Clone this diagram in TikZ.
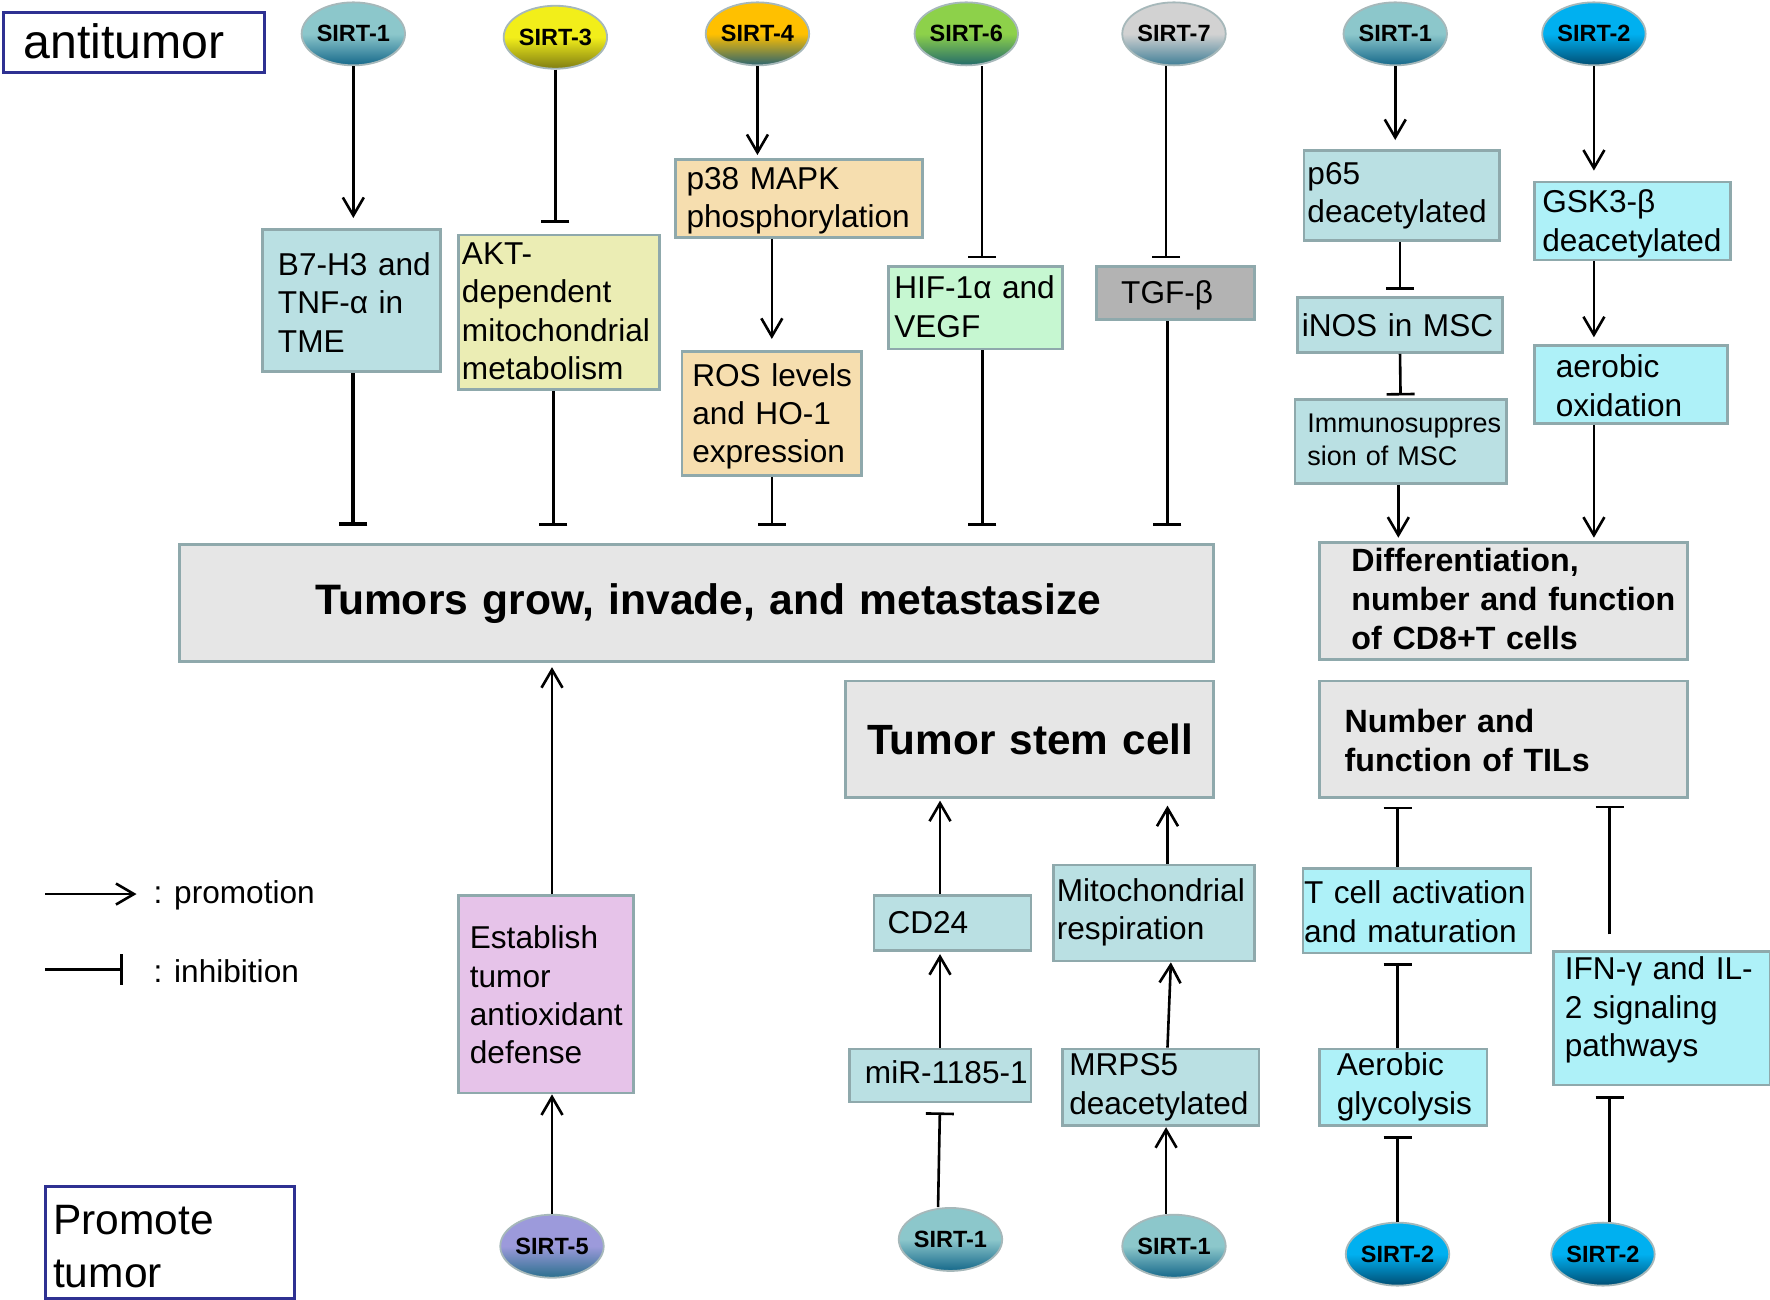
\documentclass[tikz,border=0pt]{standalone}
\usepackage{fontspec}
\setmainfont{Liberation Sans}
\usetikzlibrary{arrows.meta,shapes.geometric,calc}
\definecolor{lb}{HTML}{BAE0E3}
\definecolor{yl}{HTML}{EBEDB4}
\definecolor{wh}{HTML}{F6DEAF}
\definecolor{gr}{HTML}{C6F7D1}
\definecolor{gy}{HTML}{B3B3B3}
\definecolor{cy}{HTML}{AEF1F8}
\definecolor{pk}{HTML}{E6C3E9}
\definecolor{mg}{HTML}{E6E6E6}
\definecolor{bd}{HTML}{8FA9AC}
\definecolor{nv}{HTML}{2E3192}
\definecolor{ebd}{HTML}{A6B8BA}
\definecolor{c1t}{HTML}{8CC7CB}\definecolor{c1b}{HTML}{15688A}
\definecolor{c3t}{HTML}{F2EE1A}\definecolor{c3b}{HTML}{7F7D12}
\definecolor{c4t}{HTML}{FFC000}\definecolor{c4b}{HTML}{2B6470}
\definecolor{c6t}{HTML}{8DD14A}\definecolor{c6b}{HTML}{236B6B}
\definecolor{c7t}{HTML}{D2D2D2}\definecolor{c7b}{HTML}{3F7E96}
\definecolor{c2t}{HTML}{00B0F0}\definecolor{c2b}{HTML}{004D73}
\definecolor{c5t}{HTML}{9C9ADB}\definecolor{c5b}{HTML}{2A6F8D}
\def\tsh{2.8pt}
\newcommand\ls[1]{\raisebox{-\tsh}[\height][\depth]{\begin{tabular}{@{}l@{}}#1\end{tabular}}}
\newcommand\mkbox[9]{%
 \pgfmathsetmacro\bw{(#6-#4-2*#8)*1.1288}%
 \pgfmathsetmacro\bh{(#7-#5)*1.1288}%
 \pgfmathsetmacro\bp{#8*1.1288}%
 \node[#2, fill=#3, text width=\bw pt, inner xsep=\bp pt, minimum height=\bh pt, anchor=north west] (#1) at (#4,#5) {\ls{#9}};}
\tikzset{
 tsh/.code={\def\tsh{#1}},
 bxs/.style={draw=bd, line width=2.8pt, inner ysep=0pt, align=left, tsh=2.8pt, font=\fontsize{31.6}{38.4}\selectfont},
 bld/.style={bxs, font=\bfseries\fontsize{32.2}{39}\selectfont},
 lbl/.style={draw=nv, line width=2.5pt, inner ysep=0pt, align=left},
 sirt/.style={ellipse, draw=ebd, line width=1.8pt, minimum width=92.6pt, minimum height=63pt, inner sep=0pt, font=\bfseries\fontsize{23.5}{26}\selectfont},
 sc/.style={top color=#1t, bottom color=#1b, middle color=#1t},
 parr/.style={-{Straight Barb[length=18pt,width=21pt]}, line width=2.6pt},
 iarr/.style={-{Bar[width=28pt]}, line width=2.6pt},
 lgt/.style={inner sep=0pt, anchor=west, font=\fontsize{31.6}{38}\selectfont}
}
\begin{document}
\begin{tikzpicture}[x=1.1288pt, y=-1.1288pt]
\fill[white] (0,0) rectangle (1568,1151);
\path[use as bounding box] (0,0) rectangle (1568,1151);

% labels
\mkbox{anti}{lbl,tsh=4.5pt,font=\fontsize{48.2}{56}\selectfont}{white}{2}{10}{233}{63}{18}{antitumor}
\mkbox{promo}{lbl,tsh=7.9pt,font=\fontsize{42.5}{53}\selectfont}{white}{39}{1050}{260}{1149}{7}{Promote\\tumor}

% top ellipses
\node[sirt, sc=c1] (s1a) at (313,30) {SIRT-1};
\node[sirt, sc=c3] (s3) at (492,33) {SIRT-3};
\node[sirt, sc=c4] (s4) at (671,30) {SIRT-4};
\node[sirt, sc=c6] (s6) at (856,30) {SIRT-6};
\node[sirt, sc=c7] (s7) at (1040,30) {SIRT-7};
\node[sirt, sc=c1] (s1b) at (1236,30) {SIRT-1};
\node[sirt, sc=c2] (s2a) at (1412,30) {SIRT-2};
% bottom ellipses
\node[sirt, sc=c5] (s5) at (489,1104) {SIRT-5};
\node[sirt, sc=c1] (s1c) at (842,1098) {SIRT-1};
\node[sirt, sc=c1] (s1d) at (1040,1104) {SIRT-1};
\node[sirt, sc=c2] (s2b) at (1238,1111) {SIRT-2};
\node[sirt, sc=c2] (s2c) at (1420,1111) {SIRT-2};

% boxes
\mkbox{b7}{bxs,tsh=5.6pt}{lb}{231}{202}{389}{328}{14}{B7-H3 and\\TNF-α in\\TME}
\mkbox{akt}{bxs,tsh=2pt}{yl}{405}{207}{583}{344}{3}{AKT-\\dependent\\mitochondrial\\metabolism}
\mkbox{p38}{bxs,tsh=2.3pt}{wh}{597}{140}{816}{209}{10}{p38 MAPK\\phosphorylation}
\mkbox{ros}{bxs,tsh=3.4pt}{wh}{603}{310}{762}{420}{9}{ROS levels\\and HO-1\\expression}
\mkbox{hif}{bxs,tsh=2.3pt}{gr}{786}{235}{940}{308}{5}{HIF-1α and\\VEGF}
\mkbox{tgf}{bxs,tsh=2.3pt}{gy}{970}{235}{1110}{282}{22}{TGF-β}
\mkbox{main}{bxs,tsh=1pt,font=\bfseries\fontsize{42.6}{50}\selectfont}{mg}{158}{481}{1074}{585}{120}{Tumors grow, invade, and metastasize}
\mkbox{p65}{bxs,tsh=0pt}{lb}{1154}{132}{1327}{212}{3}{p65\\deacetylated}
\mkbox{inos}{bxs,tsh=4.5pt}{lb}{1148}{262}{1330}{311}{4}{iNOS in MSC}
\mkbox{imm}{bxs,tsh=1pt,font=\fontsize{27}{32.7}\selectfont}{lb}{1146}{353}{1333}{427}{11}{Immunosuppres\\sion of MSC}
\mkbox{gsk}{bxs,tsh=3.4pt}{cy}{1358}{160}{1532}{229}{7}{GSK3-β\\deacetylated}
\mkbox{aer}{bxs,tsh=4.5pt}{cy}{1358}{305}{1529}{374}{19}{aerobic\\oxidation}
\mkbox{diff}{bld,tsh=1.7pt}{mg}{1168}{479}{1494}{583}{28}{Differentiation,\\number and function\\of CD8+T cells}
\mkbox{tsc}{bxs,tsh=5.6pt,font=\bfseries\fontsize{42.3}{50}\selectfont}{mg}{748}{602}{1074}{705}{19}{Tumor stem cell}
\mkbox{tils}{bld,tsh=5.6pt}{mg}{1168}{602}{1494}{705}{22}{Number and\\function of TILs}
\mkbox{est}{bxs,tsh=4.5pt}{pk}{405}{792}{560}{967}{10}{Establish\\tumor\\antioxidant\\defense}
\mkbox{cd24}{bxs,tsh=2.3pt}{lb}{773}{792}{912}{841}{12}{CD24}
\mkbox{mir}{bxs,tsh=0pt}{lb}{751}{928}{912}{975}{14}{miR-1185-1}
\mkbox{mito}{bxs,tsh=0pt}{lb}{932}{765}{1110}{850}{3}{Mitochondrial\\respiration}
\mkbox{mrps}{bxs,tsh=0pt}{lb}{940}{928}{1114}{990}{6}{MRPS5\\deacetylated}
\mkbox{tcell}{bxs,tsh=4.5pt}{cy}{1153}{768}{1355}{843}{1}{T cell activation\\and maturation}
\mkbox{agly}{bxs,tsh=0pt}{cy}{1168}{928}{1316}{995}{15}{Aerobic\\glycolysis}
\mkbox{ifn}{bxs,tsh=-7.9pt}{cy}{1375}{842}{1567}{960}{10}{IFN-γ and IL-\\2 signaling\\pathways}

% column 1
\draw[parr, shorten >=10pt] (s1a.south) -- (s1a.south |- b7.north);
\draw[iarr, line width=4pt, shorten >=17pt] (b7.south -| s1a.south) -- (s1a.south |- main.north);
% column 2
\draw[iarr, shorten >=11pt] (s3.south) -- (s3.south |- akt.north);
\draw[iarr, shorten >=17pt] ($(akt.south)+(-5,0)$) -- ($(akt.south |- main.north)+(-5,0)$);
% column 3
\draw[parr, shorten >=3pt] (s4.south) -- (s4.south |- p38.north);
\draw[parr, shorten >=11pt] (p38.south -| ros.north) -- (ros.north);
\draw[iarr, shorten >=17pt] (ros.south) -- (ros.south |- main.north);
% column 4
\draw[iarr, shorten >=7pt] ($(s6.south)+(14,0)$) -- ($(s6.south |- hif.north)+(14,0)$);
\draw[iarr, shorten >=17pt] ($(hif.south)+(6,0)$) -- ($(hif.south |- main.north)+(6,0)$);
% column 5
\draw[iarr, shorten >=7pt] ($(s7.south)+(-7,0)$) -- ($(s7.south |- tgf.north)+(-7,0)$);
\draw[iarr, shorten >=17pt] ($(tgf.south)+(-7,0)$) -- ($(tgf.south |- main.north)+(-7,0)$);
% column 6
\draw[parr, shorten >=9pt] (s1b.south) -- (s1b.south |- p65.north);
\draw[iarr, shorten >=6pt] (p65.south -| inos.north) -- (inos.north);
\draw[iarr, shorten >=3pt] (inos.south) -- (imm.north);
\draw[parr, shorten >=3pt] ($(imm.south)+(-2,0)$) -- ($(imm.south |- diff.north)+(-2,0)$);
% column 7
\draw[parr, shorten >=10pt] (s2a.south) -- (s2a.south |- gsk.north);
\draw[parr, shorten >=7pt] (gsk.south -| s2a) -- (aer.north -| s2a);
\draw[parr, shorten >=3pt] (aer.south -| s2a) -- (diff.north -| s2a);

% bottom: SIRT-5
\draw[parr] (s5.north) -- (s5.north |- est.south);
\draw[parr, shorten >=4pt] (est.north -| s5) -- (main.south -| s5);
% SIRT-1 / CD24
\draw[iarr, shorten >=9pt] ($(s1c.north)+(-11,0)$) -- (mir.south);
\draw[parr, shorten >=2pt] (mir.north) -- (mir.north |- cd24.south);
\draw[parr, shorten >=2pt] (cd24.north -| mir.north) -- (tsc.south -| mir.north);
% SIRT-1 / mito
\draw[parr] ($(s1d.north)+(-7,0)$) -- ($(s1d.north |- mrps.south)+(-7,0)$);
\draw[parr] ($(mrps.north)+(6,0)$) -- ($(mito.south)+(15,0)$);
\draw[parr, shorten >=7pt] ($(mito.north)+(12,0)$) -- ($(mito.north |- tsc.south)+(12,0)$);
% SIRT-2 / T cell
\draw[iarr, shorten >=9pt] (s2b.north) -- (s2b.north |- agly.south);
\draw[iarr, shorten >=9pt] (agly.north -| s2b) -- (tcell.south -| s2b);
\draw[iarr, shorten >=8pt] (tcell.north -| s2b) -- (tils.south -| s2b);
% SIRT-2 / IFN
\draw[iarr, shorten >=10pt] ($(s2c.north)+(6,0)$) -- ($(s2c.north |- ifn.south)+(6,0)$);
\draw[iarr, shorten <=16pt, shorten >=7pt] ($(ifn.north -| s2c)+(6,0)$) -- ($(tils.south -| s2c)+(6,0)$);

% legend
\coordinate (lp) at (40,792);
\node[lgt] (lgp) at (136,793) {: promotion};
\draw[parr, shorten >=17pt] (lp) -- (lp -| lgp.west);
\coordinate (li) at (40,859);
\node[lgt] (lgi) at (136,860) {: inhibition};
\draw[-{Bar[width=31pt]}, line width=2.6pt, shorten >=31pt] (li) -- (li -| lgi.west);
\end{tikzpicture}
\end{document}
